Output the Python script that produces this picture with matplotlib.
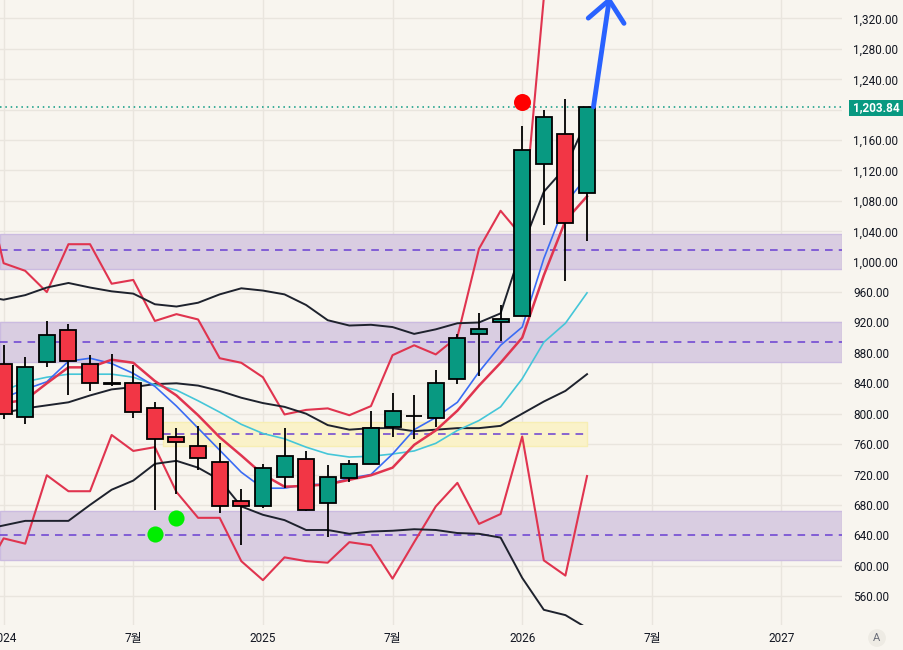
import matplotlib
matplotlib.use('Agg')
import matplotlib.pyplot as plt

plt.rcParams['font.family'] = ['Roboto', 'Noto Sans CJK KR', 'DejaVu Sans']

# ---------------- data ----------------
# monthly candles, index 0 = 2024-01
months = list(range(28))
opens  = [866, 796, 868, 910, 865, 840, 840, 807, 770, 757, 736, 685,
          679, 717, 740, 682, 716, 734, 783, 797, 795, 846, 905, 920,
          929, 1128, 1168, 1090]
highs  = [890, 875, 922, 918, 877, 879, 864, 815, 781, 784, 761, 701,
          734, 781, 751, 732, 739, 803, 827, 824, 858, 905, 932, 943,
          1179, 1200, 1214, 1203.84]
lows   = [793, 787, 861, 825, 830, 836, 794, 673, 695, 726, 670, 627,
          676, 702, 672, 638, 710, 734, 770, 767, 783, 839, 850, 896,
          929, 1048, 975, 1027]
closes = [799, 862, 904, 869, 840, 839.5, 802, 767, 763, 742, 678, 678,
          728, 744, 673, 717, 734, 781, 804, 797.5, 841, 900, 912, 925,
          1147, 1191, 1051, 1203.84]

# indicator series, index -1 .. 27
ind_months = list(range(-1, 28))
red_upper = [1120, 998, 988, 960, 1023, 1023, 971, 976, 922, 931, 924, 873, 867,
             848, 799, 805, 807, 798, 810, 877, 890, 878, 901, 1017, 1067, 1033,
             1347, 1400, 1430]
red_lower = [585, 636, 629, 719, 698, 698, 772, 751, 756, 697, 663, 663, 606,
             581, 611, 606, 604, 631, 627, 583, 631, 678, 709, 655, 668, 770,
             607, 587, 718]
black_upper = [955, 950, 956, 966, 972, 966, 961, 958, 944, 941, 946, 957, 965,
               962, 957, 943, 923, 916, 917, 914, 905, 911, 919, 920, 932, 1019,
               1092, 1124, 1187]
black_mid = [798, 801, 807, 811, 815, 824, 832, 835, 839, 840, 837, 830, 821,
             814, 809, 800, 785, 779, 781, 781, 777, 779, 781, 781, 784, 800,
             816, 830, 852]
black_lower = [647, 653, 659, 659, 659, 680, 700, 712, 734, 738, 729, 713, 678,
               667, 660, 647, 647, 642, 645, 646, 648, 647, 643, 642, 637, 584,
               542, 535, 518]
cyan_ma = [820, 830, 842, 848, 852, 852, 852, 848, 838, 831, 817, 802, 786,
           774, 767, 756, 747, 743, 744, 747, 751, 761, 778, 791, 809, 846,
           894, 919, 959]
blue_ma = [845, 821, 832, 842, 869, 873, 866, 853, 836, 810, 781, 752, 723,
           702, 702, 707, 707, 715, 720, 747, 779, 795, 815, 855, 890, 914,
           1004, 1077, 1112]
red_ma = [817, 814, 818, 840, 861, 861, 871, 867, 843, 824, 798, 769, 745,
          720, 704, 705, 707, 713, 719, 729, 759, 778, 804, 837, 867, 900,
          982, 1054, 1086]

# zones (price ranges) and their mid lines
purple_zones = [(991, 1037, 1015), (868, 920, 894), (608, 672, 640)]
yellow_zone = (757, 789, 773)
yellow_span = (7.38, 27.0)

# signal dots
red_dot = (24, 1210)
green_dots_x = [7, 8]
green_dots_y = [642, 663]

last_price = 1203.84
x_tick_pos = [0, 6, 12, 18, 24, 30, 36]
x_tick_labels = ['2024', '7월', '2025', '7월', '2026', '7월', '2027']
y_ticks = list(range(560, 1321, 40))

# ---------------- style ----------------
BG = '#f8f5ef'
GRID = '#e9e5de'
UP = '#089981'
DOWN = '#f23645'
LINE_RED = '#e0344f'
INK = '#131722'

W, H = 904, 650
fig = plt.figure(figsize=(W / 100, H / 100), dpi=100)
fig.patch.set_facecolor(BG)
ax = fig.add_axes([0, 25 / H, 842 / W, 625 / H])
ax.set_facecolor(BG)
ax.set_xlim(-0.167, 38.8)
ax.set_ylim(522.0, 1344.3)

for s in ax.spines.values():
    s.set_visible(False)

# grid
ax.set_yticks(y_ticks)
ax.set_yticklabels(['' if v == 1200 else f'{v:,.2f}' for v in y_ticks])
ax.set_xticks(x_tick_pos)
ax.set_xticklabels(x_tick_labels)
ax.grid(True, color=GRID, lw=1, zorder=0)
ax.set_axisbelow(True)
ax.yaxis.tick_right()
ax.tick_params(axis='y', length=0, pad=8, labelsize=8.5, colors=INK)
ax.tick_params(axis='x', length=0, pad=5, labelsize=8.5, colors=INK)

# zones
for lo, hi, mid in purple_zones:
    ax.axhspan(lo, hi, facecolor='#d9cde1', edgecolor='#cbbbe0', lw=1, zorder=1)
    ax.axhline(mid, color='#6a3fd2', ls=(0, (5, 4)), lw=1.1, zorder=2)
ylo, yhi, ymid = yellow_zone
ax.fill_between(yellow_span, ylo, yhi, facecolor='#faf2c9', edgecolor='#f7eeb4', lw=1, zorder=1)
ax.plot(yellow_span, [ymid, ymid], color='#6a3fd2', ls=(0, (5, 4)), lw=1.1, zorder=2)

# indicator lines
ax.plot(ind_months, red_upper, color=LINE_RED, lw=1.5, zorder=3)
ax.plot(ind_months, red_lower, color=LINE_RED, lw=1.5, zorder=3)
ax.plot(ind_months, black_upper, color='#1e222d', lw=1.4, zorder=3)
ax.plot(ind_months, black_mid, color='#1e222d', lw=1.4, zorder=3)
ax.plot(ind_months, black_lower, color='#1e222d', lw=1.4, zorder=3)
ax.plot(ind_months, cyan_ma, color='#45c6d8', lw=1.2, zorder=3)
ax.plot(ind_months, blue_ma, color='#3a6cf4', lw=1.2, zorder=3)
ax.plot(ind_months, red_ma, color=LINE_RED, lw=1.8, zorder=3)

# price line
ax.axhline(last_price, color=UP, ls=(0, (1, 2.5)), lw=1.1, zorder=2)

# candles
for m, o, h, l, c in zip(months, opens, highs, lows, closes):
    col = UP if c >= o else DOWN
    ax.vlines(m, l, h, color='black', lw=1.3, zorder=4)
    body = max(abs(c - o), 0.4)
    ax.bar(m, body, bottom=min(o, c), width=0.74, color=col,
           edgecolor='black', lw=1.3, zorder=5)

# dots
ax.scatter([red_dot[0]], [red_dot[1]], s=150, color='#ff0000', zorder=6, lw=0)
ax.scatter(green_dots_x, green_dots_y, s=135, color='#00ee00', zorder=6, lw=0)

# blue arrow from last candle
ax.annotate('', xy=(months[-1] + 1.05, 1349), xytext=(months[-1] + 0.3, last_price),
            arrowprops=dict(arrowstyle='->,head_length=0.75,head_width=0.65',
                            color='#2962ff', lw=3.5, mutation_scale=20,
                            shrinkA=0, shrinkB=0),
            annotation_clip=False, zorder=7)

# last price label on the axis
fig.patches.append(plt.Rectangle((849 / W, (H - 115.5) / H), (W - 849) / W, 16 / H,
                                 transform=fig.transFigure, facecolor=UP,
                                 edgecolor='none', zorder=10))
fig.text(876 / W, (H - 107.5) / H, f'{last_price:,.2f}', color='white',
         fontsize=8.5, fontweight='bold', ha='center', va='center', zorder=11)

# auto-scale button
fig.text(877 / W, (H - 638) / H, 'A', color='#6a6d78', fontsize=8,
         ha='center', va='center',
         bbox=dict(boxstyle='circle,pad=0.35', fc='#eeebe4', ec='none'))

fig.savefig('out.png', dpi=100, facecolor=BG)
